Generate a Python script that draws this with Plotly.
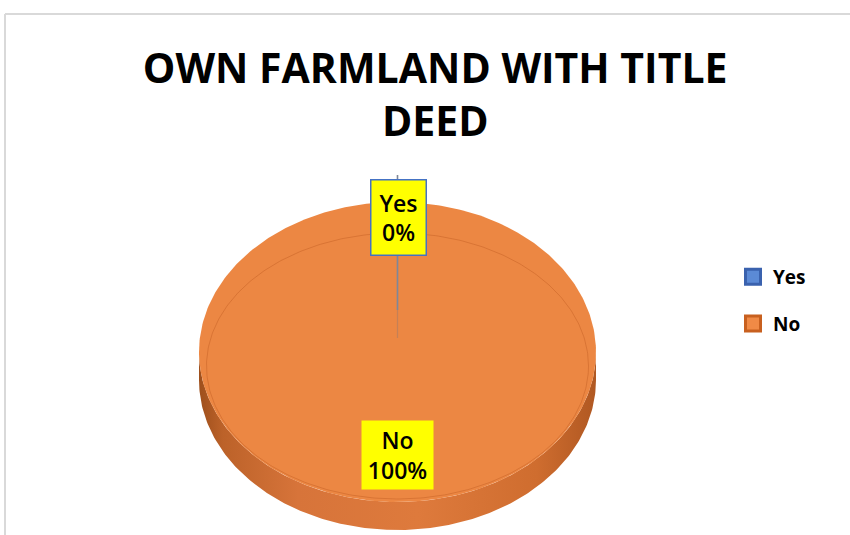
import numpy as np
import plotly.graph_objects as go

# Survey answers: does the household own farmland with a title deed?
categories = ["Yes", "No"]
values = [0, 100]
slice_colors = ["#4472C4", "#EC8743"]
legend_fill = ["#5B8AD6", "#F08A46"]
legend_edge = ["#3A62AE", "#C8601F"]

W, H = 850, 535
CX, CY = 397.5, 352.0      # centre of the top face
RX, RY = 198.5, 150.0      # radii of the tilted disc
DEPTH = 28.0               # thickness of the 3-D wall

fig = go.Figure()

def rim(theta, dy=0.0, rx=RX, ry=RY, cy=CY):
    return CX + rx * np.cos(theta), cy - ry * np.sin(theta) + dy

# side wall (front half of the disc, extruded downward)
th = np.linspace(np.pi, 2 * np.pi, 200)
xt, yt = rim(th)
xb, yb = rim(th[::-1], DEPTH)
fig.add_trace(go.Scatter(
    x=np.r_[xt, xb], y=np.r_[yt, yb], mode="lines", fill="toself",
    line=dict(width=0), hoverinfo="skip", showlegend=False,
    fillgradient=dict(type="horizontal", colorscale=[
        [0.0, "#9E4F1C"], [0.06, "#BC6229"], [0.25, "#D7743A"],
        [0.55, "#DE7A3C"], [0.85, "#CF6D2F"], [1.0, "#B05822"]]),
))

# top face: one wedge per category, clockwise from 12 o'clock
total = sum(values)
start = np.pi / 2
for cat, val, col in zip(categories, values, slice_colors):
    sweep = 2 * np.pi * val / total
    if val > 0:
        t = np.linspace(start, start - sweep, 400)
        x, y = rim(t)
        if val < total:
            x, y = np.r_[CX, x, CX], np.r_[CY, y, CY]
        fig.add_trace(go.Scatter(
            x=x, y=y, mode="lines", fill="toself", fillcolor=col,
            line=dict(width=0), hoverinfo="skip", showlegend=False))
    start -= sweep

# faint bevel line inside the top face
tb = np.linspace(0, 2 * np.pi, 400)
xi, yi = CX + 191 * np.cos(tb), 366 - 133 * np.sin(tb)
fig.add_trace(go.Scatter(x=xi, y=yi, mode="lines",
                         line=dict(color="rgba(200,100,40,0.55)", width=1),
                         hoverinfo="skip", showlegend=False))

# zero-width slice edge for "Yes"
start = np.pi / 2
for cat, val in zip(categories, values):
    if val == 0:
        ex, ey = CX + RX * np.cos(start), CY - RY * np.sin(start)
        fig.add_trace(go.Scatter(x=[ex, ex], y=[ey - 27, CY - 42], mode="lines",
                                 line=dict(color="#7E8798", width=1.6),
                                 hoverinfo="skip", showlegend=False))
        fig.add_trace(go.Scatter(x=[ex, ex], y=[CY - 42, CY - 14], mode="lines",
                                 line=dict(color="rgba(150,120,110,0.45)", width=1.2),
                                 hoverinfo="skip", showlegend=False))
    start -= 2 * np.pi * val / total

# legend entries
for i, cat in enumerate(categories):
    fig.add_trace(go.Scatter(
        x=[None], y=[None], mode="markers", name=cat, legendgroup=cat,
        marker=dict(symbol="square", size=15, color=legend_fill[i],
                    line=dict(color=legend_edge[i], width=3))))

# data labels
label_pos = {"Yes": (398.5, 217.0, "#4472C4", 52, 72),
             "No": (397.5, 454.5, "#EC8743", 70, 67)}
for cat, val in zip(categories, values):
    x, y, edge, w, h = label_pos[cat]
    fig.add_annotation(
        x=x, y=y, xref="x", yref="y", showarrow=False,
        text=f"{cat}<br>{val / total * 100:.0f}%",
        font=dict(family="Open Sans", size=23, color="#000000", weight=600),
        bgcolor="#FFFF00", bordercolor=edge, borderwidth=1.5, borderpad=1,
        width=w, height=h, align="center", valign="middle")

# chart frame
fig.add_shape(type="line", xref="paper", yref="paper",
              x0=5 / W, x1=1, y0=1 - 14 / H, y1=1 - 14 / H,
              line=dict(color="#D9D9D9", width=2))
fig.add_shape(type="line", xref="paper", yref="paper",
              x0=5 / W, x1=5 / W, y0=0, y1=1 - 14 / H,
              line=dict(color="#D9D9D9", width=2))

fig.update_layout(
    width=W, height=H, margin=dict(l=0, r=0, t=0, b=0),
    paper_bgcolor="white", plot_bgcolor="white",
    title=dict(text="<b>OWN FARMLAND WITH TITLE<br>DEED</b>",
               x=0.512, xanchor="center", y=1 - 83 / H, yanchor="middle",
               font=dict(family="Open Sans", size=41, color="#000000")),
    xaxis=dict(range=[0, W], visible=False, fixedrange=True, domain=[0, 1]),
    yaxis=dict(range=[H, 0], visible=False, fixedrange=True, domain=[0, 1]),
    legend=dict(x=733 / W, y=1 - 258 / H, xanchor="left", yanchor="top",
                font=dict(family="Open Sans", size=19, color="#000000", weight="bold"),
                tracegroupgap=19, itemwidth=30, bgcolor="rgba(0,0,0,0)"),
    showlegend=True,
)

fig.write_html("out.html")
